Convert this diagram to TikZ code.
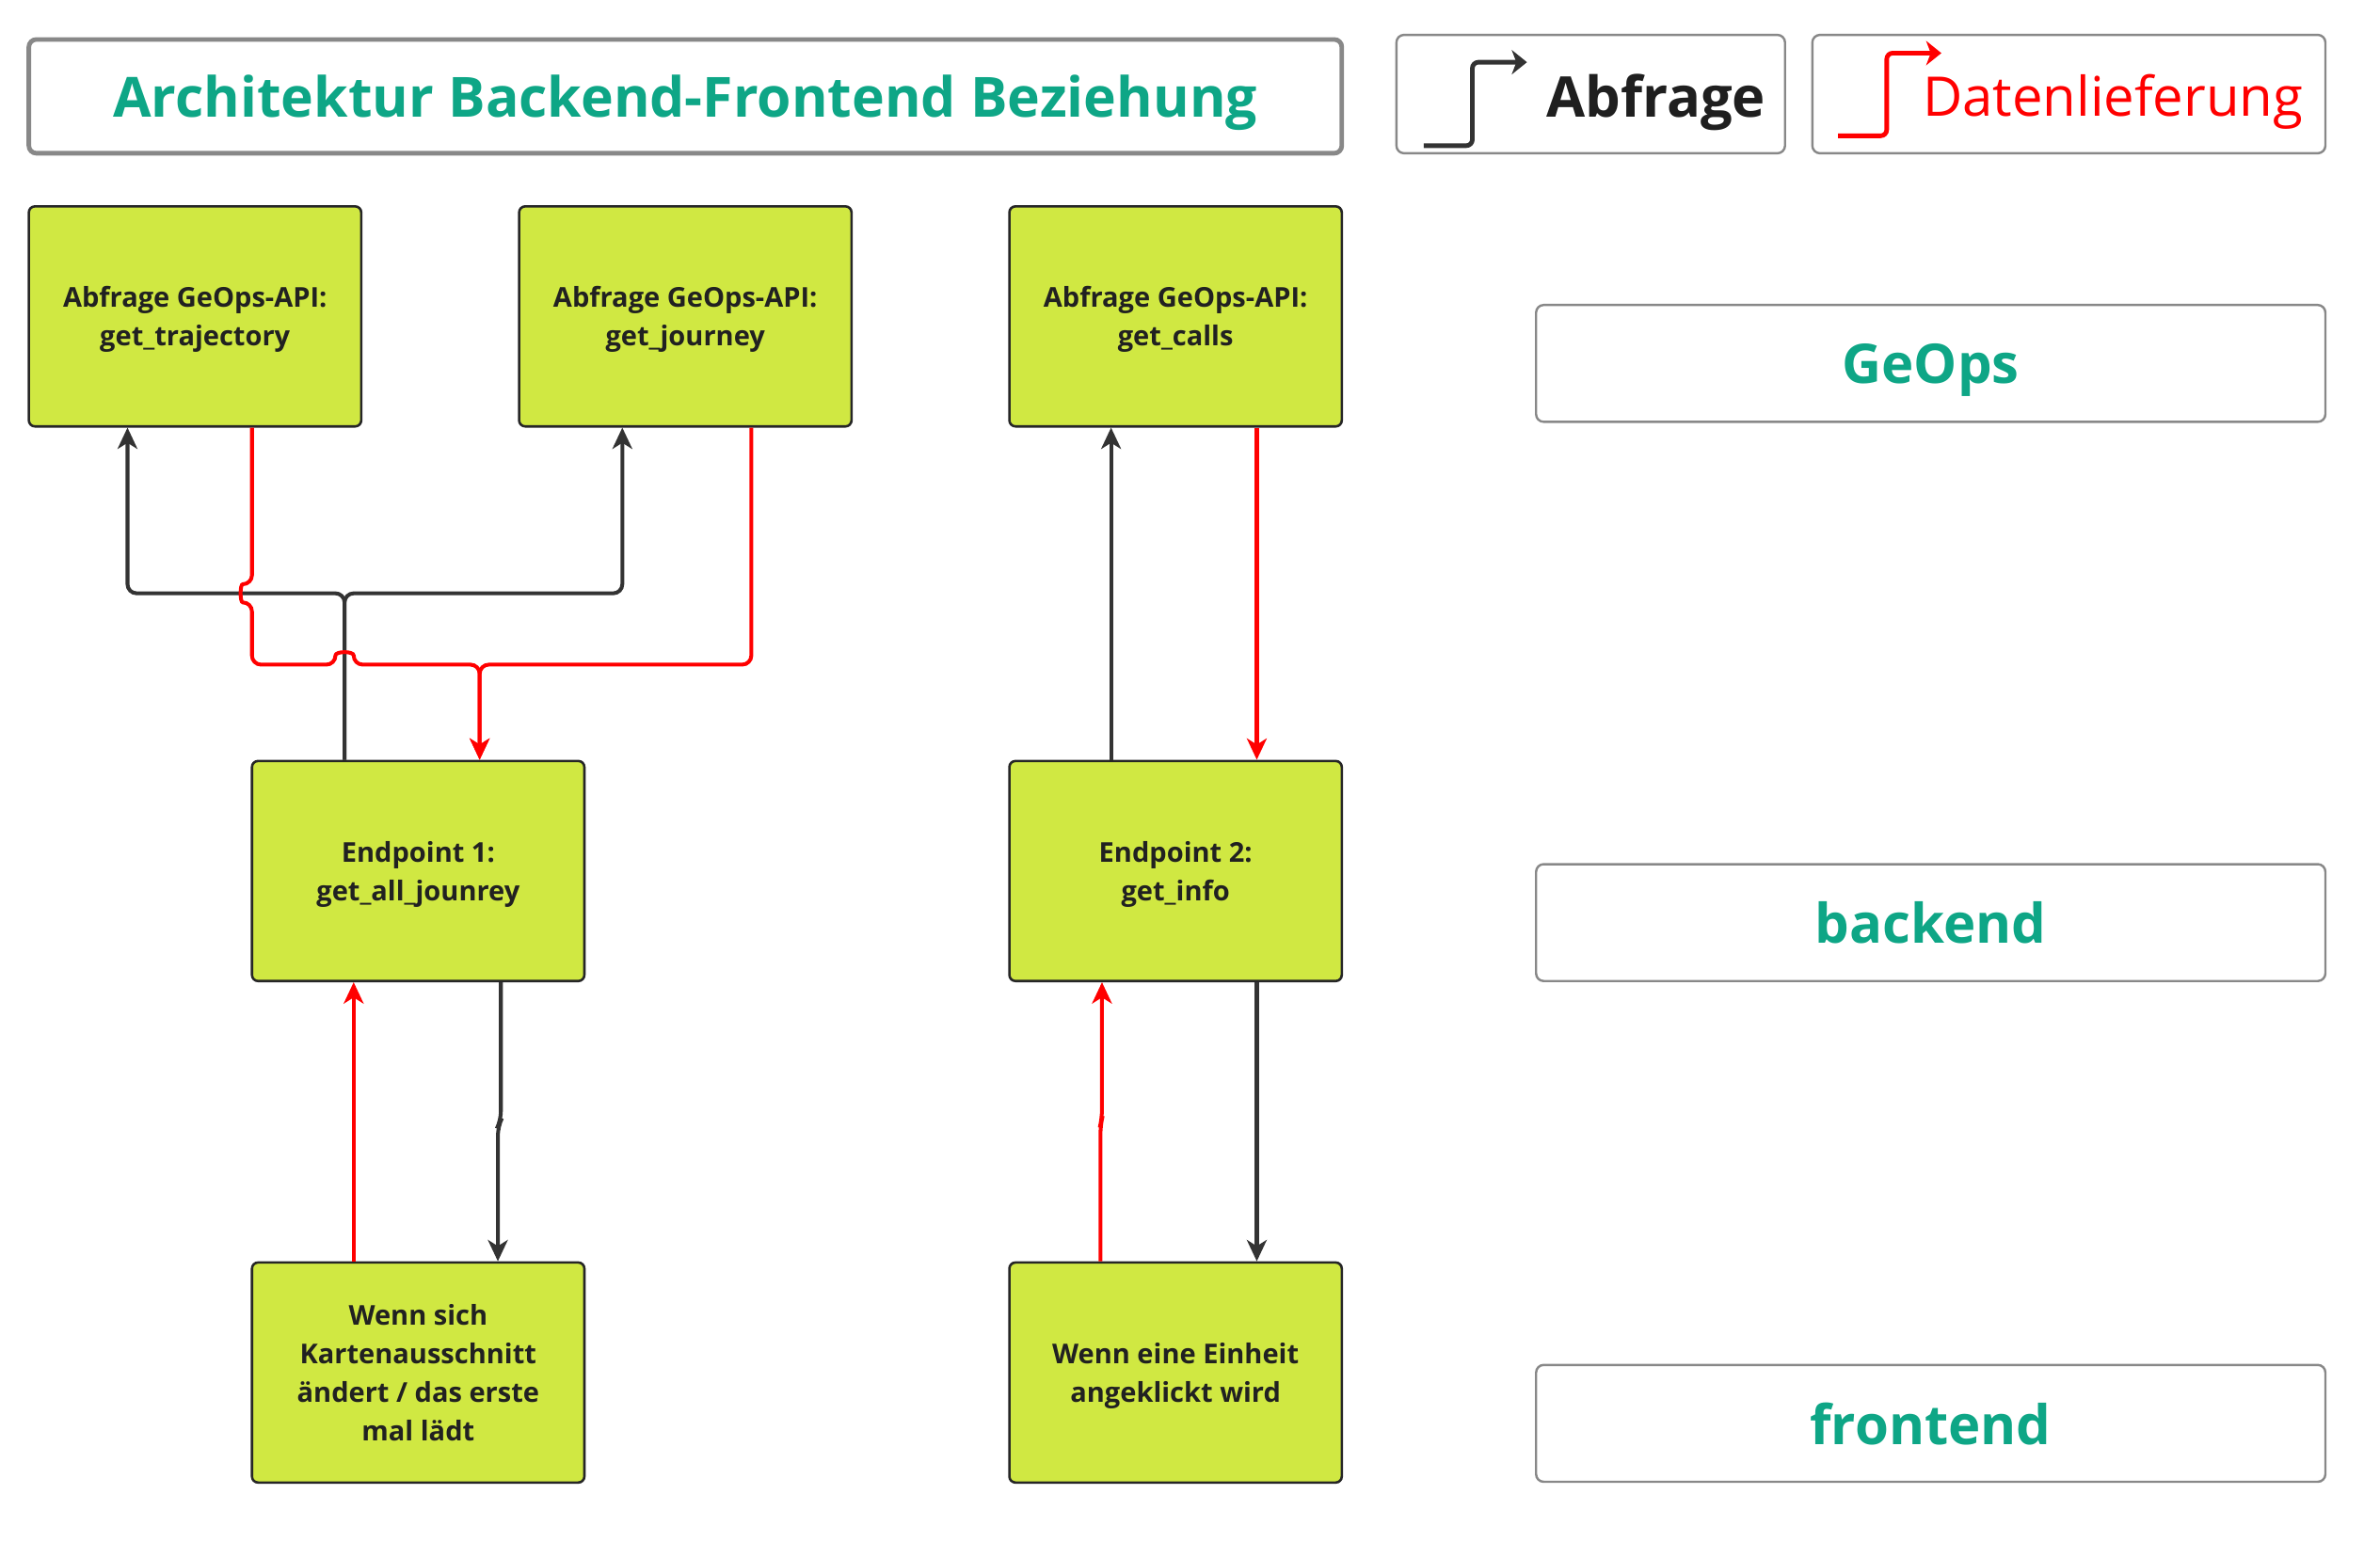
\documentclass[tikz,border=0pt]{standalone}
\usepackage{fontspec}
\setmainfont{Open Sans}
\usetikzlibrary{arrows.meta}
\definecolor{tealtxt}{RGB}{14,166,134}
\definecolor{limefill}{RGB}{208,232,66}
\definecolor{darkline}{RGB}{51,51,51}
\definecolor{redline}{RGB}{255,0,0}
\definecolor{framegray}{RGB}{136,136,136}
\tikzset{
	apibox/.style={rectangle, rounded corners=4pt, draw=black!85, line width=1.6pt, fill=limefill, minimum width=219pt, minimum height=145pt, align=center, text depth=0pt, text=black!87, font=\fontsize{18}{25.5}\selectfont\bfseries},
	labelbox/.style={rectangle, rounded corners=5pt, draw=framegray, line width=1.5pt, minimum width=520pt, minimum height=77pt, text depth=0pt, text=tealtxt, font=\fontsize{36}{40}\selectfont\bfseries},
	legendbox/.style={rectangle, rounded corners=5pt, draw=framegray, line width=1.5pt, minimum height=78pt},
	abfrage/.style={draw=darkline, line width=2.5pt, rounded corners=6pt, -{Stealth[length=14pt,width=13pt,inset=4pt]}},
	liefer/.style={draw=redline, line width=2.5pt, rounded corners=6pt, -{Stealth[length=14pt,width=13pt,inset=4pt]}},
}
\begin{document}
\begin{tikzpicture}[x=1pt,y=1pt,yscale=-1,xscale=1]
	\useasboundingbox (0,0) rectangle (1568,1016);
	\node [rectangle, rounded corners=5pt, draw=framegray, line width=3pt, minimum width=865pt, minimum height=75pt, text depth=0pt, text=tealtxt, font=\fontsize{36.5}{40}\selectfont\bfseries] (title) at (451.5,63.5) {Architektur Backend-Frontend Beziehung};
	\node [legendbox, minimum width=256pt] (lgabf) at (1048,62) {};
	\node [legendbox, minimum width=338pt] (lgdat) at (1363,62) {};
	\node [text depth=0pt, font=\fontsize{37}{40}\selectfont\bfseries, text=black!88] (txtabf) at (1091,63) {Abfrage};
	\node [text depth=0pt, font=\fontsize{36}{40}\selectfont, text=redline] (txtdat) at (1392,63) {Datenlieferung};
	\coordinate (iconabf) at (938,96);
	\coordinate (icondat) at (1211,89.5);
	\draw [abfrage, line width=3pt, rounded corners=4pt, -{Stealth[length=10pt,width=16pt,inset=3pt]}] (iconabf) -- ++(32,0) -- ++(0,-55) -- ++(36,0);
	\draw [liefer, line width=3pt, rounded corners=4pt, -{Stealth[length=10pt,width=16pt,inset=3pt]}] (icondat) -- ++(32,0) -- ++(0,-54.5) -- ++(36,0);

	\node [apibox] (traj) at (128.5,208.5) {Abfrage GeOps-API:\\get\_trajectory};
	\node [apibox] (journ) at (451.5,208.5) {Abfrage GeOps-API:\\get\_journey};
	\node [apibox] (calls) at (774.5,208.5) {Abfrage GeOps-API:\\get\_calls};
	\node [apibox] (ep1) at (275.5,574) {Endpoint 1:\\get\_all\_jounrey};
	\node [apibox] (ep2) at (774.5,574) {Endpoint 2:\\get\_info};
	\node [apibox] (fe1) at (275.5,904.5) {Wenn sich\\Kartenausschnitt\\ändert / das erste\\mal lädt};
	\node [apibox] (fe2) at (774.5,904.5) {Wenn eine Einheit\\angeklickt wird};

	\node [labelbox] (geops) at (1272,239.5) {GeOps};
	\node [labelbox] (backend) at (1272,608) {backend};
	\node [labelbox] (frontend) at (1272,938) {frontend};

	\coordinate (split) at (227,391);
	\coordinate (merge) at (316,438);
	\draw [abfrage] ([xshift=-48.5pt]ep1.north) -- (split) -| ([xshift=-44.5pt]traj.south);
	\draw [abfrage] ([xshift=-48.5pt]ep1.north) -- (split) -| ([xshift=-41.5pt]journ.south);
	\draw [abfrage] ([xshift=-42.5pt]ep2.north) -- ([xshift=-42.5pt]calls.south);
	\draw [abfrage] ([xshift=54.5pt]ep1.south) -- ++(0,91) -- ++(-2,4) -- ([xshift=52.5pt]fe1.north);
	\draw [abfrage] ([xshift=53.5pt]ep2.south) -- ([xshift=53.5pt]fe2.north);

	\draw [liefer] ([xshift=37.5pt]traj.south) -- (166,385) .. controls (158,385) and (158,397) .. (166,397) -- (166,438) -- (221,438) .. controls (221,429) and (233,429) .. (233,438) -- (merge) -- ([xshift=40.5pt]ep1.north);
	\draw [liefer] ([xshift=43.5pt]journ.south) |- (merge) -- ([xshift=40.5pt]ep1.north);
	\draw [liefer] ([xshift=53.5pt]calls.south) -- ([xshift=53.5pt]ep2.north);
	\draw [liefer] ([xshift=-42.5pt]fe1.north) -- ([xshift=-42.5pt]ep1.south);
	\draw [liefer] ([xshift=-49.5pt]fe2.north) -- ++(0,-90) -- ++(1,-4) -- ([xshift=-48.5pt]ep2.south);
\end{tikzpicture}
\end{document}
